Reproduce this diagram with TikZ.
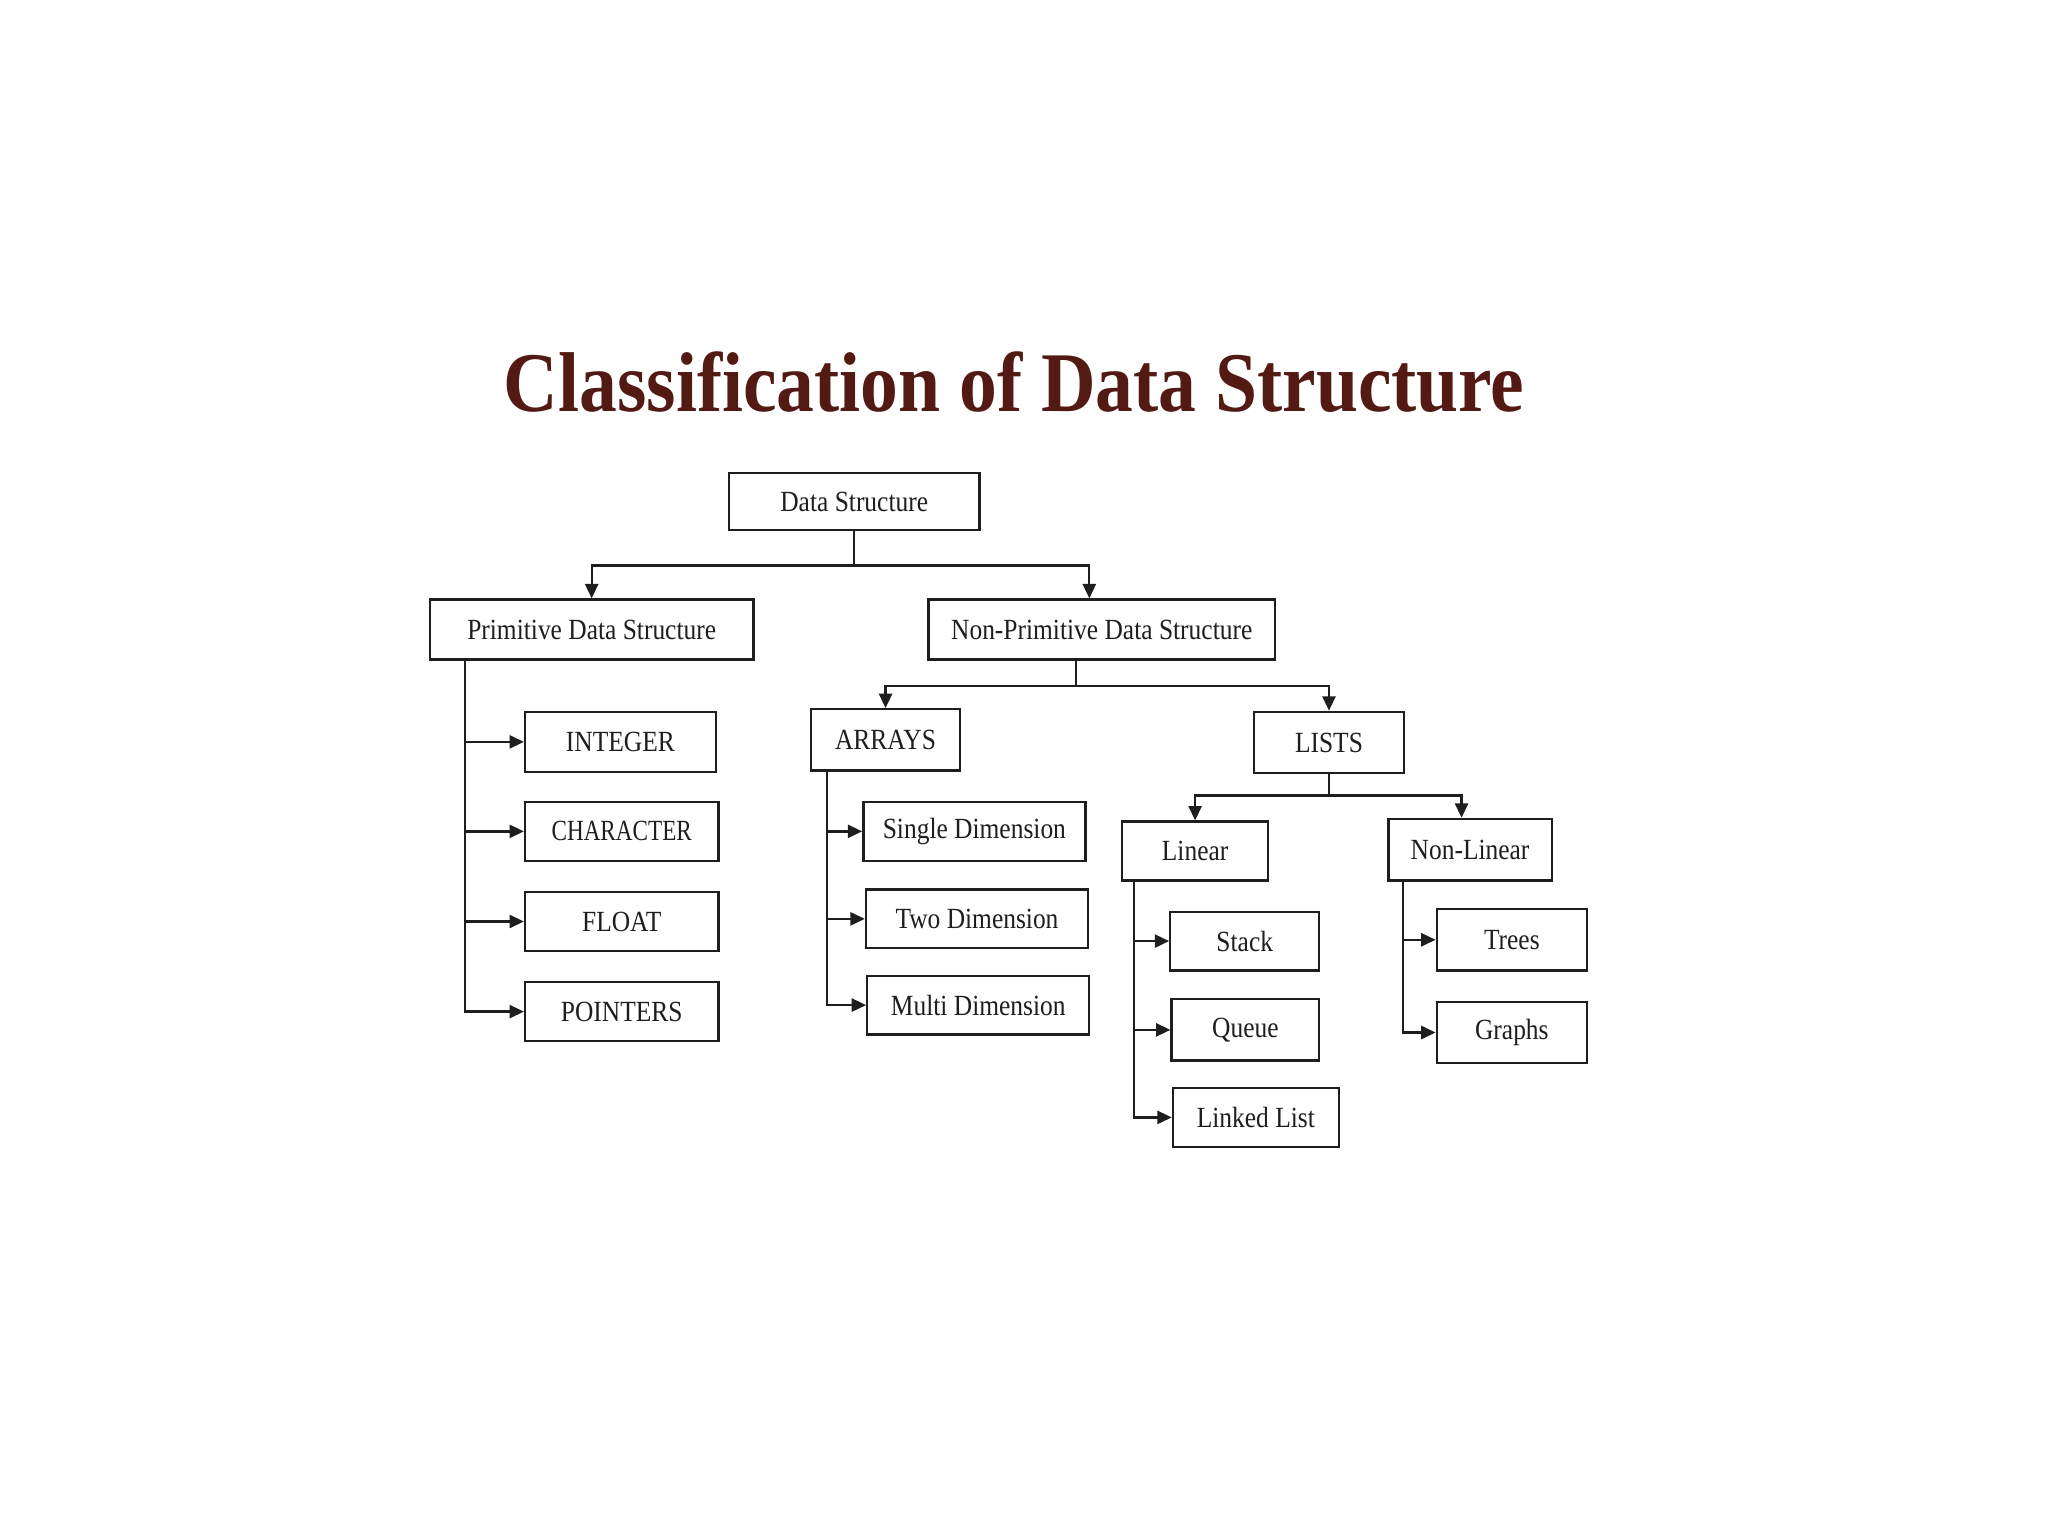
\documentclass[tikz,border=0pt]{standalone}
\usepackage{fontspec}
\setmainfont{Liberation Serif}[FakeStretch=0.87]
\newfontfamily\titlefont{Liberation Serif}[FakeStretch=0.89]
\usetikzlibrary{arrows.meta}
\definecolor{titlebrown}{HTML}{521A13}
\definecolor{ink}{HTML}{1E1E1E}
\begin{document}
\begin{tikzpicture}[x=1pt,y=-1pt,
  box/.style={draw=ink, line width=1.8pt, inner sep=0pt, text=ink,
    font=\fontsize{22.4}{26}\selectfont},
  conn/.style={draw=ink, line width=1.8pt},
  arr/.style={conn, -{Triangle[length=11pt,width=10pt]}}]
\useasboundingbox[fill=white] (0,0) rectangle (1568,1176);
\node[anchor=base, text=titlebrown, font=\titlefont\fontsize{65}{70}\selectfont\bfseries] (title) at (776.5,315) {Classification of Data Structure};

\node[box, minimum width=192pt, minimum height=44pt] (ds) at (654,384) {Data Structure};
\node[box, minimum width=248pt, minimum height=46pt] (pds) at (453,482) {Primitive Data Structure};
\node[box, minimum width=265pt, minimum height=46pt] (nps) at (843.5,482) {Non-Primitive Data Structure};

\node[box, minimum width=146pt, minimum height=46pt] (int) at (475,568) {INTEGER};
\node[box, minimum width=148pt, minimum height=45pt] (chr) at (476,636.5) {\scalebox{0.91}[1]{CHARACTER}};
\node[box, minimum width=148pt, minimum height=45pt] (flt) at (476,705.5) {FLOAT};
\node[box, minimum width=148pt, minimum height=45pt] (ptr) at (476,774.5) {POINTERS};

\node[box, minimum width=114pt, minimum height=47pt] (arrs) at (678,566.5) {ARRAYS};
\node[box, minimum width=170pt, minimum height=45pt] (sd) at (746,636.5) {Single Dimension};
\node[box, minimum width=170pt, minimum height=45pt] (td) at (748,703.5) {Two Dimension};
\node[box, minimum width=170pt, minimum height=45pt] (md) at (749,769.5) {Multi Dimension};

\node[box, minimum width=115pt, minimum height=47pt] (lst) at (1017.5,568.5) {LISTS};
\node[box, minimum width=112pt, minimum height=45pt] (lin) at (915,651.5) {Linear};
\node[box, minimum width=125pt, minimum height=47pt] (nl) at (1125.5,650.5) {Non-Linear};
\node[box, minimum width=114pt, minimum height=45pt] (stk) at (953,720.5) {Stack};
\node[box, minimum width=113pt, minimum height=47pt] (que) at (953.5,788.5) {Queue};
\node[box, minimum width=127pt, minimum height=45pt] (ll) at (961.5,855.5) {Linked List};
\node[box, minimum width=115pt, minimum height=47pt] (tre) at (1157.5,719.5) {Trees};
\node[box, minimum width=115pt, minimum height=47pt] (gra) at (1157.5,790.5) {Graphs};

% level 1
\coordinate (j1) at (654,433);
\draw[conn] (ds.south) -- (j1);
\draw[arr] (j1) -| (pds.north);
\draw[arr] (j1) -| ([xshift=-9.5pt]nps.north);

% primitive children
\coordinate (p0) at ([xshift=28pt]pds.south west);
\foreach \c in {int,chr,flt,ptr} \draw[arr] (p0) |- (\c.west);

% non-primitive
\coordinate (j2) at (824,525);
\draw[conn] ([xshift=-19.5pt]nps.south) -- (j2);
\draw[arr] (j2) -| (arrs.north);
\draw[arr] (j2) -| (lst.north);

% arrays children
\coordinate (a0) at ([xshift=13pt]arrs.south west);
\foreach \c in {sd,td,md} \draw[arr] (a0) |- (\c.west);

% lists
\coordinate (j3) at (1017.5,609);
\draw[conn] (lst.south) -- (j3);
\draw[arr] (j3) -| (lin.north);
\draw[arr] (j3) -| ([xshift=-6.5pt]nl.north);

% linear children
\coordinate (l0) at ([xshift=10pt]lin.south west);
\foreach \c in {stk,que,ll} \draw[arr] (l0) |- (\c.west);

% non-linear children
\coordinate (n0) at ([xshift=12pt]nl.south west);
\foreach \c in {tre,gra} \draw[arr] (n0) |- (\c.west);
\end{tikzpicture}
\end{document}
